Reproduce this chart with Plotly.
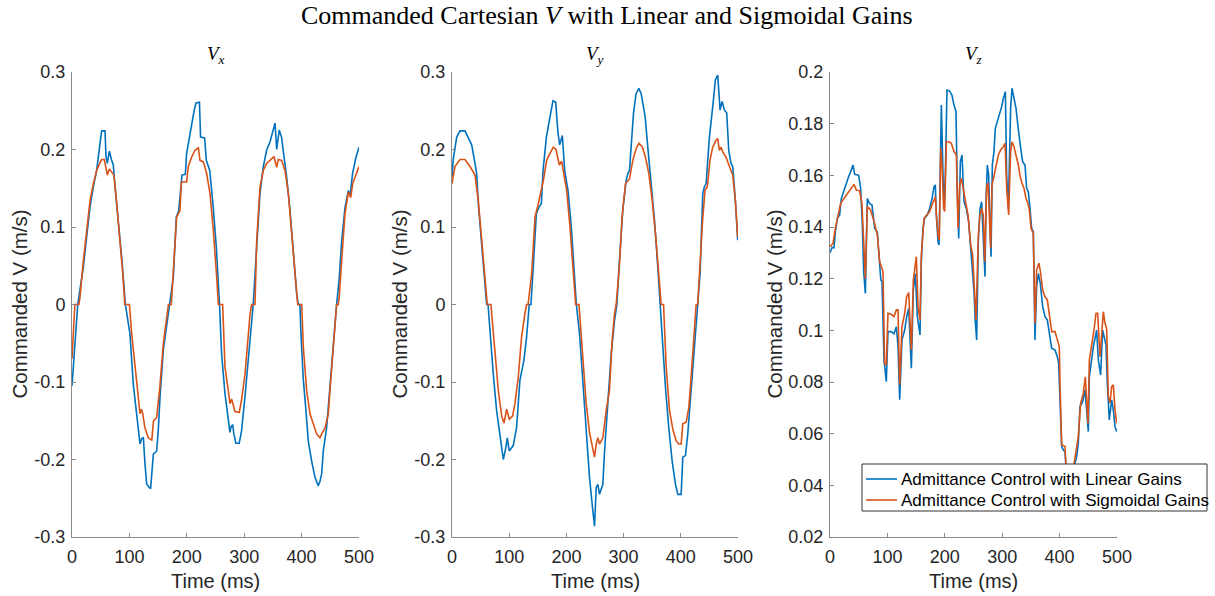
import plotly.graph_objects as go

# ---------------- data ----------------
vx_lin_t = [0, 4, 8, 10, 14, 19.7, 25.5, 31.4, 37.2, 43, 48.8, 51.7, 57.5, 59.3, 61.6, 65, 69, 72, 75, 81, 87, 93,
            101, 106.8, 112.6, 118.5, 121.4, 124.3, 127.2, 130.1, 135.9, 137, 141.7, 147.5, 150.3, 153.3, 159.1, 164.9, 170.7,
            176.5, 181.8, 185.9, 191.6, 197.4, 199.7, 207, 213, 216, 222, 224, 231, 234, 240, 246, 251.5, 257,
            260.7, 266.5, 272.3, 275.2, 277, 280, 282, 285.5, 291.3, 295.4, 301.2, 307, 315.7,
            321.7, 327.5, 333.3, 339, 345, 349.6, 353.7, 356.6, 361, 365, 368, 374, 380, 385.6, 391.4, 394.3, 397,
            398.9, 402.9, 407.6, 411.6, 417.5, 423.3, 429.1, 432, 434.9, 437.8, 443.6, 449.4, 455.2, 461,
            465.7, 469.8, 475.6, 481.4, 484.3, 489, 494.8, 500]
vx_lin = [-0.105, -0.06, -0.02, 0.0, 0.02, 0.048, 0.087, 0.126, 0.152, 0.173, 0.208, 0.224, 0.224, 0.190, 0.182, 0.198, 0.186, 0.180, 0.152, 0.109, 0.057, 0.0,
          -0.038, -0.103, -0.141, -0.180, -0.173, -0.172, -0.206, -0.232, -0.237, -0.237, -0.193, -0.189, -0.163, -0.120, -0.059, -0.029, 0.0,
          0.035, 0.113, 0.121, 0.167, 0.168, 0.195, 0.229, 0.251, 0.260, 0.261, 0.216, 0.215, 0.186, 0.173, 0.126, 0.073, 0.0,
          -0.064, -0.115, -0.145, -0.165, -0.158, -0.155, -0.167, -0.179, -0.179, -0.163, -0.120, -0.068, 0.0,
          0.074, 0.143, 0.178, 0.199, 0.210, 0.225, 0.234, 0.200, 0.225, 0.216, 0.200, 0.164, 0.120, 0.066, 0.014, 0.0, 0.0,
          -0.038, -0.096, -0.137, -0.176, -0.202, -0.223, -0.234, -0.228, -0.219, -0.189, -0.159, -0.103, -0.055, 0.0,
          0.035, 0.082, 0.125, 0.147, 0.140, 0.170, 0.190, 0.203]

vx_sig_t = [0, 3, 5, 12, 14, 19.7, 25.5, 31.4, 37.2, 43, 48.8, 51.7, 56.3, 59.3, 61.6, 65, 69, 73, 77.4, 83.2, 89, 92, 100,
            104, 110, 116, 118.5, 121, 123, 127, 133, 139, 142, 147.5, 153, 159, 165, 168, 173,
            176.5, 182.3, 188.1, 190.5, 199.7, 202.6, 208.4, 214.3, 220.1, 223, 228.8, 234.6, 240.4, 246.2, 252, 255, 262.5,
            264.8, 266.5, 272.3, 275.2, 278.1, 281, 283.9, 291.5, 295.6, 301.4, 307.2, 310.1, 313, 318.8,
            321.7, 327.5, 333.3, 339, 344.9, 351.8, 356.6, 359.5, 365.3, 371.1, 376.9, 382.7, 388.6, 393.2, 400.2,
            403, 408.8, 414.6, 420.4, 426.2, 432, 434.9, 440.7, 446.5, 449.4, 455.2, 461, 464,
            466, 469.8, 475.6, 481.4, 485.5, 489, 494.8, 500]
vx_sig = [-0.070, -0.03, 0.0, 0.0, 0.01, 0.056, 0.096, 0.134, 0.156, 0.173, 0.183, 0.187, 0.187, 0.173, 0.167, 0.175, 0.171, 0.167, 0.134, 0.087, 0.035, 0.0, 0.0,
          -0.038, -0.081, -0.124, -0.141, -0.135, -0.140, -0.159, -0.172, -0.175, -0.150, -0.146, -0.107, -0.051, -0.020, 0.0, 0.0,
          0.040, 0.113, 0.121, 0.158, 0.158, 0.178, 0.190, 0.199, 0.202, 0.186, 0.184, 0.169, 0.143, 0.096, 0.036, 0.0, 0.0,
          -0.038, -0.081, -0.111, -0.128, -0.122, -0.132, -0.138, -0.139, -0.122, -0.090, -0.038, -0.013, 0.0, 0.0,
          0.082, 0.151, 0.173, 0.182, 0.186, 0.191, 0.177, 0.187, 0.186, 0.173, 0.143, 0.096, 0.040, 0.0, 0.0,
          -0.055, -0.111, -0.141, -0.154, -0.167, -0.172, -0.167, -0.160, -0.141, -0.111, -0.051, 0.0, 0.0,
          0.014, 0.057, 0.117, 0.145, 0.138, 0.156, 0.167, 0.178]

vy_lin_t = [0, 2.3, 8.2, 14, 22.7, 28.5, 34.4, 40.2, 43.1, 46, 48.9, 54.7, 60.6, 63,
            66.4, 72.2, 78, 83.9, 89.7, 94.3, 96.6, 100.1, 107.1, 112.9, 118.7, 125.7, 130.4, 135, 138,
            141.7, 147.5, 152.2, 156.2, 159.2, 165, 170.8, 176.6, 181.3, 185.3, 188.3, 192.9, 197, 202.8, 208.6, 214.5, 217.4,
            223, 228.8, 234.6, 240.4, 246.2, 249.2, 252.1, 255, 257.9, 263.7, 266.7, 272.5, 278.3, 284.1, 288.2,
            292.8, 298.6, 304.5, 307.4, 310.3, 313.2, 317.3, 321.9, 326.6, 330.7, 334.8, 337.7, 342.3, 348.2, 354, 359.8, 363.9,
            367.4, 373.2, 379, 384.9, 390.7, 394.8, 400.6, 403.5, 408.2, 412.2, 418, 423.9, 429.7,
            433.7, 438.4, 441.3, 444.3, 450, 455.8, 460.5, 464.6, 468.6, 472.1, 476.2, 480.3, 483.8, 487.8, 490.8, 495.4, 499.5]
vy_lin = [0.165, 0.188, 0.216, 0.224, 0.224, 0.216, 0.206, 0.182, 0.169, 0.130, 0.104, 0.048, 0.0, 0.0,
          -0.038, -0.090, -0.137, -0.172, -0.200, -0.184, -0.172, -0.189, -0.182, -0.159, -0.098, -0.072, -0.042, 0.0, 0.0,
          0.044, 0.117, 0.126, 0.130, 0.173, 0.216, 0.240, 0.263, 0.261, 0.221, 0.206, 0.218, 0.173, 0.147, 0.100, 0.040, 0.0,
          -0.038, -0.103, -0.167, -0.223, -0.266, -0.286, -0.236, -0.232, -0.245, -0.232, -0.189, -0.120, -0.064, -0.021, 0.0,
          0.057, 0.122, 0.160, 0.169, 0.173, 0.203, 0.247, 0.272, 0.279, 0.272, 0.255, 0.242, 0.203, 0.160, 0.109, 0.048, 0.0,
          -0.051, -0.107, -0.159, -0.202, -0.232, -0.245, -0.245, -0.197, -0.195, -0.167, -0.111, -0.051, 0.0,
          0.040, 0.143, 0.152, 0.156, 0.216, 0.255, 0.290, 0.296, 0.251, 0.262, 0.251, 0.247, 0.199, 0.182, 0.178, 0.134, 0.083]

vy_sig_t = [0, 5.2, 14, 22.7, 31.5, 40.2, 46, 51.9, 57.7, 61.7, 68,
            75.1, 81, 86.8, 90.9, 95.5, 100.1, 105.9, 110, 115.8, 121.6, 127.4, 130.4, 133,
            139.3, 145.1, 150.9, 159.7, 165.5, 171.3, 177.1, 181.8, 187.6, 191.7, 195.8, 200.5, 206.3, 212, 216.2, 222,
            228.8, 234.6, 240.4, 246.2, 249.2, 252.1, 255, 257.9, 263.7, 269.5, 275.3, 279.9, 284.1, 287,
            292.5, 297.4, 303.3, 310.3, 316.1, 321.9, 326.6, 332.4, 338.3, 344.1, 350, 355.8, 361.6, 365.7, 369.8,
            374.5, 380.3, 386.1, 391.9, 396.6, 400.6, 403.5, 409.4, 414, 418, 423.9, 426.8, 429.5,
            432.3, 438.2, 442.2, 446.3, 451, 455.8, 461.7, 464.6, 467.5, 470.4, 473.3, 479.2, 485, 490.8, 495.4, 499.5]
vy_sig = [0.156, 0.178, 0.187, 0.187, 0.178, 0.167, 0.134, 0.083, 0.035, 0.0, 0.0,
          -0.059, -0.111, -0.144, -0.153, -0.135, -0.148, -0.144, -0.128, -0.094, -0.042, -0.012, 0.0, 0.0,
          0.040, 0.113, 0.130, 0.160, 0.186, 0.195, 0.203, 0.200, 0.180, 0.185, 0.169, 0.147, 0.100, 0.048, 0.0, 0.0,
          -0.072, -0.128, -0.165, -0.189, -0.197, -0.180, -0.172, -0.180, -0.172, -0.137, -0.111, -0.047, -0.012, 0.0,
          0.048, 0.113, 0.156, 0.162, 0.186, 0.201, 0.208, 0.204, 0.190, 0.169, 0.134, 0.091, 0.035, 0.0, 0.0,
          -0.081, -0.137, -0.161, -0.176, -0.180, -0.180, -0.154, -0.152, -0.133, -0.094, -0.021, 0.0, 0.0,
          0.040, 0.109, 0.147, 0.152, 0.186, 0.203, 0.212, 0.214, 0.199, 0.203, 0.197, 0.190, 0.178, 0.167, 0.134, 0.087]

vz_lin_t = [0, 3.5, 7, 9.3, 12.8, 16.8, 19.7, 24.4, 28.5, 32.5, 36, 40.1, 43, 50, 53.4, 56.3, 58.7, 61.6, 65, 69.1, 73.2,
            77.8, 82.5, 86.5, 88.5, 90.6, 94.1, 98.1, 101, 106.9, 111.5, 115.6, 118.5, 121.4, 125.4, 130.1, 133.6, 137.1,
            141.7, 145.2, 148.7, 152.2, 156.8, 159.1, 162, 164.9, 169.6, 173.6, 177.7, 181.2, 183.5, 185.2, 188.2, 189.9,
            192.2, 194, 196.9, 198.6, 200.9, 203.8, 208.5, 212.5, 216, 219.5, 221.8, 224.2, 227.1, 230, 233.5, 237.5,
            241.6, 245.1, 248.5, 250.9, 253, 255.5, 258.4, 261.3, 264.2, 268.3, 270, 271.8, 274.1, 276.4, 278.7, 280.5,
            282.8, 285.7, 288, 291.5, 295, 299.1, 302, 305.5, 307.8, 310.7, 314.7, 317.1, 320.6, 324, 327.5, 329.8,
            332.2, 335.6, 339.7, 342.6, 345.5, 348.4, 351.3, 354.2, 357.1, 360, 363, 366.5, 370.5, 374.6, 378.6, 382.1,
            386.2, 392, 396, 398.4, 400.7, 403.6, 406.5, 409.4, 411.1, 414, 418, 422, 426.8, 429.7, 432.6, 435.5, 440.2,
            444.2, 447.1, 450, 451.8, 454.7, 458.8, 461.7, 464.6, 467.5, 471.5, 475, 477.3, 480.8, 483.1, 486.6, 490.7,
            493.6, 496.5, 499.4]
vz_lin = [0.130, 0.132, 0.132, 0.138, 0.1434, 0.1447, 0.151, 0.1543, 0.1576, 0.1595, 0.1614, 0.164, 0.1604, 0.160, 0.155, 0.1408, 0.1227, 0.1143, 0.151, 0.149, 0.1485,
          0.1395, 0.138, 0.1247, 0.1195, 0.1189, 0.0885, 0.0801, 0.0995, 0.0995, 0.0986, 0.1014, 0.0937, 0.0731, 0.0963, 0.1001, 0.1053, 0.1085,
          0.0853, 0.1156, 0.122, 0.1053, 0.0982, 0.1266, 0.1395, 0.1434, 0.1447, 0.1472, 0.151, 0.1556, 0.1563, 0.1447, 0.1343, 0.133,
          0.1692, 0.1872, 0.160, 0.1472, 0.160, 0.193, 0.1926, 0.191, 0.1872, 0.1847, 0.1537, 0.1356, 0.1653, 0.1679, 0.1498, 0.1472,
          0.142, 0.133, 0.124, 0.115, 0.104, 0.0963, 0.1344, 0.147, 0.1498, 0.1253, 0.1208, 0.1498, 0.164, 0.160, 0.1382, 0.1285,
          0.164, 0.1692, 0.1782, 0.1808, 0.184, 0.1866, 0.1898, 0.1924, 0.160, 0.147, 0.186, 0.1937, 0.1898, 0.186, 0.1789, 0.1756,
          0.1705, 0.1653, 0.164, 0.155, 0.1537, 0.1472, 0.1395, 0.1382, 0.0963, 0.1169, 0.122, 0.118, 0.1092, 0.1053, 0.104, 0.0989,
          0.0931, 0.0924, 0.0898, 0.0872, 0.0744, 0.055, 0.0537, 0.053, 0.047, 0.044, 0.042, 0.043, 0.0486, 0.051, 0.0563, 0.0705, 0.0724,
          0.0769, 0.0692, 0.0608, 0.082, 0.0872, 0.0937, 0.0969, 0.1001, 0.0885, 0.0827, 0.1001, 0.0982, 0.0944, 0.0795, 0.0653, 0.0731,
          0.0692, 0.0627, 0.0608]

vz_sig_t = [0, 5.2, 9.3, 14, 18.6, 24.4, 30.2, 36, 41.8, 45.9, 51.7, 55.7, 59.2, 61.6, 65, 70.8, 76.7, 82.5, 86.5, 92.3,
            95.2, 98.1, 101, 106.9, 111.5, 115.6, 118.5, 121.4, 125.4, 130.1, 133.6, 137.1, 141.7, 145.2, 150.4, 153.3,
            156.8, 159.1, 163.8, 169.6, 173.6, 177.7, 181.2, 183.5, 185.8, 188.2, 190.5, 192.8, 195.1, 198, 199.8, 202.7,
            206.8, 211.4, 216, 220.1, 223, 225.9, 228.8, 231.7, 235.8, 240.4, 245.1, 248.5, 250.9, 254.4, 258.4, 261.3,
            264.2, 267.1, 269.5, 273, 275.3, 277.6, 279.9, 282.2, 285.7, 289.2, 293.3, 297.3, 302, 304.9, 307.8, 311.3,
            314.7, 317.1, 320.6, 325.2, 328.1, 331, 334.5, 338, 341.5, 345, 347.3, 350.2, 354.2, 357.1, 360, 364.1, 367,
            370.5, 374.6, 378.6, 382.1, 386.2, 392, 396, 399.5, 400.7, 403.6, 409.4, 411.1, 414, 418, 422, 425.5, 428.6,
            432.6, 436.7, 441.3, 444.8, 447.1, 449.5, 451.8, 455.9, 459.9, 463.4, 466.3, 470.4, 473.3, 476.2, 479.1, 482,
            484.9, 487.8, 490.7, 493.6, 496.5, 499.4]
vz_sig = [0.1324, 0.1337, 0.1395, 0.144, 0.1492, 0.151, 0.153, 0.155, 0.1565, 0.1543, 0.154, 0.149, 0.1318, 0.120, 0.1479, 0.1466, 0.1421, 0.1369, 0.1266, 0.1227,
          0.0872, 0.0866, 0.1066, 0.1062, 0.1053, 0.1079, 0.1079, 0.0789, 0.1014, 0.1066, 0.113, 0.1146, 0.0924, 0.1195, 0.1285, 0.1092,
          0.104, 0.1292, 0.1434, 0.1447, 0.146, 0.1485, 0.151, 0.1517, 0.1434, 0.1369, 0.135, 0.1705, 0.164, 0.1472, 0.146, 0.173,
          0.173, 0.1724, 0.1692, 0.1679, 0.1395, 0.1563, 0.1588, 0.155, 0.1498, 0.1447, 0.133, 0.1292, 0.119, 0.104, 0.137, 0.1447,
          0.1472, 0.1447, 0.1266, 0.156, 0.157, 0.1447, 0.1318, 0.156, 0.160, 0.1646, 0.1679, 0.1698, 0.1711, 0.1724, 0.155, 0.1447,
          0.1692, 0.173, 0.1711, 0.1666, 0.164, 0.160, 0.1569, 0.155, 0.151, 0.149, 0.1466, 0.1395, 0.1375, 0.1027, 0.1234, 0.126, 0.1221,
          0.1156, 0.113, 0.1118, 0.1053, 0.0995, 0.0995, 0.0963, 0.0937, 0.0795, 0.0557, 0.055, 0.048, 0.045, 0.043, 0.044, 0.049, 0.0524,
          0.0589, 0.0718, 0.0756, 0.082, 0.0744, 0.064, 0.0885, 0.0937, 0.1001, 0.1066, 0.1066, 0.0898, 0.0989, 0.1072, 0.1027, 0.1008,
          0.0744, 0.0718, 0.0782, 0.0789, 0.0692, 0.064]

series_names = ["Admittance Control with Linear Gains", "Admittance Control with Sigmoidal Gains"]
panel_titles = ["<i>V<sub>x</sub></i>", "<i>V<sub>y</sub></i>", "<i>V<sub>z</sub></i>"]
xy_ticks = [-0.3, -0.2, -0.1, 0, 0.1, 0.2, 0.3]
xy_ticktext = ["-0.3", "-0.2", "-0.1", "0", "0.1", "0.2", "0.3"]
z_ticks = [0.02, 0.04, 0.06, 0.08, 0.1, 0.12, 0.14, 0.16, 0.18, 0.2]
z_ticktext = ["0.02", "0.04", "0.06", "0.08", "0.1", "0.12", "0.14", "0.16", "0.18", "0.2"]
x_ticks = [0, 100, 200, 300, 400, 500]

# ---------------- figure ----------------
W, H = 1215, 596
BLUE = "#0072BD"
ORANGE = "#D95319"
COLORS = [BLUE, ORANGE]
TXT = "#262626"
AX = "#8a8a8a"
SANS = "Liberation Sans, Arial, sans-serif"
SERIF = "Liberation Serif, Times New Roman, serif"


def pxx(x):
    return x / W


def pxy(y):
    return 1 - y / H


fig = go.Figure()
panels = [(vx_lin_t, vx_lin, vx_sig_t, vx_sig), (vy_lin_t, vy_lin, vy_sig_t, vy_sig), (vz_lin_t, vz_lin, vz_sig_t, vz_sig)]
for i, (tl, yl, ts, ys) in enumerate(panels):
    xa = "x" if i == 0 else f"x{i+1}"
    ya = "y" if i == 0 else f"y{i+1}"
    fig.add_trace(go.Scatter(x=tl, y=yl, mode="lines", line=dict(color=BLUE, width=1.6),
                             name=series_names[0], showlegend=False, xaxis=xa, yaxis=ya))
    fig.add_trace(go.Scatter(x=ts, y=ys, mode="lines", line=dict(color=ORANGE, width=1.6),
                             name=series_names[1], showlegend=False, xaxis=xa, yaxis=ya))

px_x = [(72, 359), (452, 738), (830, 1117)]
ytop, ybot = 72, 537
ydom = [pxy(ybot), pxy(ytop)]

axis_common = dict(showgrid=False, zeroline=False, showline=True, linecolor=AX, linewidth=1,
                   ticks="inside", ticklen=4, tickcolor=AX, tickwidth=1, automargin=False,
                   tickfont=dict(family=SANS, size=18, color=TXT),
                   mirror=False, fixedrange=True)

layout = dict(width=W, height=H, margin=dict(l=0, r=0, t=0, b=0, pad=0),
              paper_bgcolor="white", plot_bgcolor="white", showlegend=False)
for i, (x0, x1) in enumerate(px_x):
    sfx = "" if i == 0 else str(i + 1)
    layout["xaxis" + sfx] = dict(axis_common, domain=[pxx(x0), pxx(x1)], range=[0, 500], tickvals=x_ticks,
                                 anchor="y" + sfx, ticklabelstandoff=3)
    if i < 2:
        layout["yaxis" + sfx] = dict(axis_common, domain=ydom, range=[-0.3, 0.3], tickvals=xy_ticks,
                                     ticktext=xy_ticktext, anchor="x" + sfx, ticklabelstandoff=2)
    else:
        layout["yaxis" + sfx] = dict(axis_common, domain=ydom, range=[0.02, 0.2], tickvals=z_ticks,
                                     ticktext=z_ticktext, anchor="x" + sfx, ticklabelstandoff=2)
fig.update_layout(**layout)

annotations = []
annotations.append(dict(text="Commanded Cartesian <i>V</i> with Linear and Sigmoidal Gains",
                        x=pxx(607), y=pxy(15), xref="paper", yref="paper", showarrow=False,
                        xanchor="center", yanchor="middle",
                        font=dict(family=SERIF, size=26, color="black")))
ylab_x = [19, 399, 774]
for i, (x0, x1) in enumerate(px_x):
    cx = (x0 + x1) / 2
    annotations.append(dict(text=panel_titles[i], x=pxx(cx), y=pxy(55), xref="paper", yref="paper",
                            showarrow=False, xanchor="center", yanchor="middle",
                            font=dict(family=SERIF, size=19, color="black")))
    annotations.append(dict(text="Time (ms)", x=pxx(cx), y=pxy(581), xref="paper", yref="paper",
                            showarrow=False, xanchor="center", yanchor="middle",
                            font=dict(family=SANS, size=20, color=TXT)))
    annotations.append(dict(text="Commanded V (m/s)", x=pxx(ylab_x[i]), y=pxy(304.5), xref="paper", yref="paper",
                            showarrow=False, xanchor="center", yanchor="middle", textangle=-90,
                            font=dict(family=SANS, size=20.5, color=TXT)))

# legend box (opaque, drawn over the Vz traces like the reference)
shapes = [dict(type="rect", xref="paper", yref="paper", x0=pxx(862), x1=pxx(1207), y0=pxy(511), y1=pxy(464),
               fillcolor="white", line=dict(color="#333333", width=1), layer="above")]
legend_rows = [479, 500]
for k in range(2):
    shapes.append(dict(type="line", xref="paper", yref="paper", x0=pxx(866), x1=pxx(897),
                       y0=pxy(legend_rows[k]), y1=pxy(legend_rows[k]),
                       line=dict(color=COLORS[k], width=1.6), layer="above"))
    annotations.append(dict(text=series_names[k], x=pxx(899), y=pxy(legend_rows[k]), xref="paper", yref="paper",
                            showarrow=False, xanchor="left", yanchor="middle",
                            font=dict(family=SANS, size=17, color="black")))
fig.update_layout(annotations=annotations, shapes=shapes)

fig.write_html("out.html")
